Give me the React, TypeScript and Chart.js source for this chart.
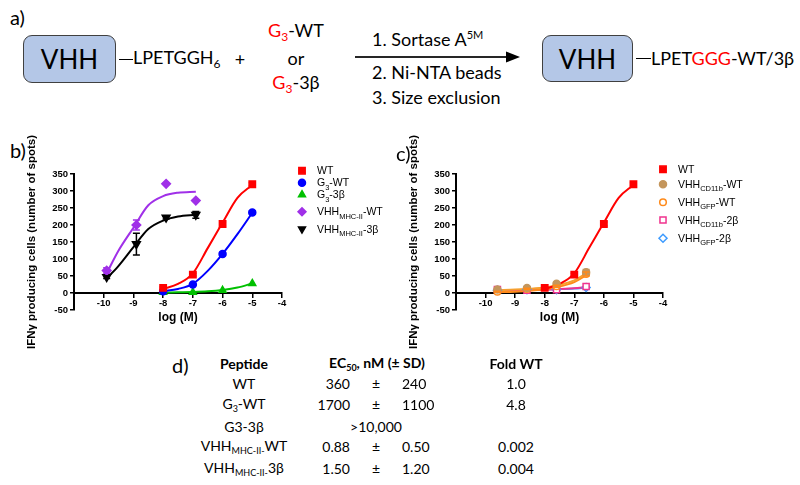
import React, { useEffect, useRef } from 'react';
import { Chart, registerables } from 'chart.js';
import { drawPoint } from 'chart.js/helpers';

Chart.register(...registerables);

const FONT = "'Liberation Sans', Arial, sans-serif";
const TEXT_FONT = "Lato, 'Liberation Sans', sans-serif";

// ---------- Panel b data ----------
const logDosePeptide = [-8, -7, -6, -5];
const logDoseVhhB = [-9.9, -8.9, -7.9, -6.9];
const wtValues = [15, 54, 203, 320];
const wtErr = [3, 4, 6, 4];
const g3wtValues = [5, 25, 115, 237];
const g3wtErr = [0, 2, 5, 4];
const g33bValues = [2, 2, 8, 28];
const vhhMhcWtValues = [66, 200, 321, 272];
const vhhMhcWtErr = [8, 15, 0, 0];
const vhhMhc3bValues = [47, 144, 222, 230];
const vhhMhc3bErr = [4, 32, 4, 10];

// fitted curves
const fitXPeptide = [-8, -7.5, -7, -6.5, -6, -5.5, -5];
const wtFit = [12, 27, 58, 132, 207, 280, 318];
const g3wtFit = [5, 12, 27, 65, 115, 173, 236];
const g33bFit = [1, 2, 3, 5, 9, 16, 28];
const fitXVhhB = [-9.9, -9.5, -9, -8.5, -8, -7.5, -6.9];
const vhhMhcWtFit = [58, 125, 192, 258, 285, 295, 298];
const vhhMhc3bFit = [43, 80, 135, 188, 213, 225, 230];

// ---------- Panel c data ----------
const logDoseVhhC = [-9.6, -8.6, -7.6, -6.6];
const cd11bWtValues = [10, 15, 27, 61];
const cd11bWtErr = [2, 3, 4, 8];
const gfpWtValues = [4, 12, 20, 56];
const gfpWtErr = [1, 2, 3, 6];
const cd11b2bValues = [10, 8, 10, 19];
const gfp2bValues = [8, 10, 10, 16];
const fitXVhhC = [-9.6, -9, -8.6, -8, -7.6, -7, -6.6];
const cd11bWtFit = [8, 10, 12, 16, 22, 37, 58];
const gfpWtFit = [2, 4, 6, 11, 17, 32, 52];
const cd11b2bFit = [8, 8.5, 9, 10, 11, 14, 17];
const gfp2bFit = [8, 8.5, 9, 10, 11, 13, 16];

const xTickValues = [-10, -9, -8, -7, -6, -5, -4];
const xMin = -11;
const xMax = -4;
const yMin = -50;
const yMax = 350;
const yStep = 50;

// ---------- Table data ----------
const tablePeptides = ['WT', 'G3-WT', 'G3-3β', 'VHH-MHC-WT', 'VHH-MHC-3β'];
const tableEc50 = ['360', '1700', '', '0.88', '1.50'];
const tableSd = ['240', '1100', '', '0.50', '1.20'];
const tableFold = ['1.0', '4.8', '', '0.002', '0.004'];

const pts = (xs: number[], ys: number[]) => xs.map((x, i) => ({ x, y: ys[i] }));

const RED = '#FF0000';
const BLUE = '#0000FF';
const GREEN = '#00C000';
const PURPLE = '#A030E8';
const BLACK = '#000000';
const TAN = '#C4965C';
const ORANGE = '#FF8A1A';
const ORANGE2 = '#F5A030';
const PINK = '#F0338F';
const LBLUE = '#3D9BFF';

const errorBarPlugin = {
  id: 'errorBars',
  afterDatasetsDraw(chart: any) {
    const ctx = chart.ctx;
    const xs = chart.scales.x;
    const ys = chart.scales.y;
    chart.data.datasets.forEach((ds: any) => {
      if (!ds.errorBars) return;
      ctx.save();
      ctx.strokeStyle = ds.errorColor || ds.pointBorderColor;
      ctx.lineWidth = 1.5;
      ds.data.forEach((p: any, j: number) => {
        const e = ds.errorBars[j];
        if (!e) return;
        const px = xs.getPixelForValue(p.x);
        const t = ys.getPixelForValue(p.y + e);
        const b = ys.getPixelForValue(p.y - e);
        ctx.beginPath();
        ctx.moveTo(px, t);
        ctx.lineTo(px, b);
        ctx.moveTo(px - 3.5, t);
        ctx.lineTo(px + 3.5, t);
        ctx.moveTo(px - 3.5, b);
        ctx.lineTo(px + 3.5, b);
        ctx.stroke();
      });
      ctx.restore();
    });
  },
};

const legendPlugin = {
  id: 'customLegend',
  afterDraw(chart: any, _args: any, opts: any) {
    if (!opts || !opts.rows) return;
    const ctx = chart.ctx;
    ctx.save();
    const rows = opts.rows as any[];
    for (let i = 0; i < rows.length; i++) {
      const r = rows[i];
      ctx.fillStyle = r.fill;
      ctx.strokeStyle = r.stroke;
      ctx.lineWidth = 1.5;
      drawPoint(ctx, { pointStyle: r.style, rotation: r.rotation || 0, radius: r.radius, borderWidth: 1.5 } as any, opts.markerX, r.y);
      let x = opts.textX;
      const segs = r.segs as any[];
      for (let k = 0; k < segs.length; k++) {
        const s = segs[k];
        ctx.font = `${s.sub ? opts.subSize : opts.size}px ${FONT}`;
        ctx.fillStyle = '#000';
        ctx.textAlign = 'left';
        ctx.textBaseline = 'alphabetic';
        const base = r.y + opts.size * 0.36 + (s.sub ? opts.size * 0.3 : 0);
        ctx.fillText(s.t, x, base);
        x += ctx.measureText(s.t).width;
      }
    }
    ctx.restore();
  },
};

function pointSet(label: string, xs: number[], ys: number[], style: string, radius: number, fill: string, stroke: string, err?: number[], rotation = 0) {
  return {
    label,
    data: pts(xs, ys),
    showLine: false,
    pointStyle: style,
    pointRadius: radius,
    pointRotation: rotation,
    pointBackgroundColor: fill,
    pointBorderColor: stroke,
    pointBorderWidth: 1.5,
    errorBars: err,
    errorColor: stroke,
    order: 0,
  };
}

function curveSet(label: string, xs: number[], ys: number[], color: string, order = 1) {
  return {
    label,
    data: pts(xs, ys),
    showLine: true,
    pointRadius: 0,
    borderColor: color,
    borderWidth: 2,
    cubicInterpolationMode: 'monotone',
    fill: false,
    order,
  };
}

function DoseChart(props: { left: number; top: number; width: number; height: number; datasets: any[]; padding: any; yWidth: number; legend: any }) {
  const ref = useRef<HTMLCanvasElement>(null);
  useEffect(() => {
    const tickFont = { family: FONT, size: 9.5, weight: 'bold' as const };
    const chart = new Chart(ref.current as HTMLCanvasElement, {
      type: 'scatter',
      data: { datasets: props.datasets },
      options: {
        animation: false,
        responsive: false,
        devicePixelRatio: 1,
        layout: { padding: props.padding },
        plugins: {
          legend: { display: false },
          tooltip: { enabled: false },
          customLegend: props.legend,
        } as any,
        scales: {
          x: {
            type: 'linear',
            min: xMin,
            max: xMax,
            position: { y: 0 } as any,
            afterBuildTicks: (s: any) => {
              s.ticks = xTickValues.map((v) => ({ value: v }));
            },
            ticks: { font: tickFont, color: '#000', padding: 1, maxRotation: 0 },
            grid: { display: true, drawOnChartArea: false, drawTicks: true, tickLength: 4, color: '#000', lineWidth: 1.5 },
            border: { display: true, color: '#000', width: 2 },
            title: { display: true, text: 'log (M)', font: { family: FONT, size: 12, weight: 'bold' }, color: '#000', padding: 0 },
          },
          y: {
            type: 'linear',
            min: yMin,
            max: yMax,
            afterFit: (s: any) => {
              s.width = props.yWidth;
            },
            ticks: { stepSize: yStep, font: tickFont, color: '#000', padding: 2 },
            grid: { display: true, drawOnChartArea: false, drawTicks: true, tickLength: 4, color: '#000', lineWidth: 1.5 },
            border: { display: true, color: '#000', width: 2 },
            title: { display: true, text: 'IFNγ producing cells (number of spots)', font: { family: FONT, size: 11.5, weight: 'bold' }, color: '#000', padding: 0 },
          },
        },
      } as any,
      plugins: [errorBarPlugin, legendPlugin],
    });
    return () => chart.destroy();
  }, []);
  return (
    <canvas
      ref={ref}
      width={props.width}
      height={props.height}
      style={{ position: 'absolute', left: props.left, top: props.top, width: props.width, height: props.height }}
    />
  );
}

const abs = (left: number, top: number, extra: React.CSSProperties = {}): React.CSSProperties => ({
  position: 'absolute',
  left,
  top,
  whiteSpace: 'nowrap',
  ...extra,
});

function Cell({ x, y, align, children, bold }: { x: number; y: number; align: 'l' | 'c' | 'r'; children: React.ReactNode; bold?: boolean }) {
  const tx = align === 'l' ? '0' : align === 'c' ? '-50%' : '-100%';
  return (
    <div style={abs(x, y, { transform: `translate(${tx}, -50%)`, fontFamily: TEXT_FONT, fontSize: 14, fontWeight: bold ? 700 : 400, color: '#000', lineHeight: 1 })}>
      {children}
    </div>
  );
}

function peptideLabel(p: string) {
  if (p === 'G3-WT') return (<span>G<sub style={{ fontSize: 9 }}>3</sub>-WT</span>);
  if (p === 'VHH-MHC-WT') return (<span>VHH<sub style={{ fontSize: 9 }}>MHC-II-</sub>WT</span>);
  if (p === 'VHH-MHC-3β') return (<span>VHH<sub style={{ fontSize: 9 }}>MHC-II-</sub>3β</span>);
  return <span>{p}</span>;
}

export default function App() {
  const datasetsB = [
    pointSet('WT', logDosePeptide, wtValues, 'rect', 4.5, RED, RED, wtErr),
    pointSet('G3-WT', logDosePeptide, g3wtValues, 'circle', 3.5, BLUE, BLUE, g3wtErr),
    pointSet('G3-3β', logDosePeptide, g33bValues, 'triangle', 4, GREEN, GREEN),
    pointSet('VHH MHC-II-WT', logDoseVhhB, vhhMhcWtValues, 'rectRot', 4.3, PURPLE, PURPLE, vhhMhcWtErr),
    pointSet('VHH MHC-II-3β', logDoseVhhB, vhhMhc3bValues, 'triangle', 4.5, BLACK, BLACK, vhhMhc3bErr, 180),
    curveSet('WT fit', fitXPeptide, wtFit, RED),
    curveSet('G3-WT fit', fitXPeptide, g3wtFit, BLUE),
    curveSet('G3-3β fit', fitXPeptide, g33bFit, GREEN),
    curveSet('VHH MHC-II-WT fit', fitXVhhB, vhhMhcWtFit, PURPLE),
    curveSet('VHH MHC-II-3β fit', fitXVhhB, vhhMhc3bFit, BLACK),
  ];
  const datasetsC = [
    pointSet('WT', logDosePeptide, wtValues, 'rect', 4.5, RED, RED, wtErr),
    pointSet('VHH CD11b-WT', logDoseVhhC, cd11bWtValues, 'circle', 3.5, TAN, TAN, cd11bWtErr),
    pointSet('VHH GFP-WT', logDoseVhhC, gfpWtValues, 'circle', 3.3, '#FFFFFF', ORANGE, gfpWtErr),
    pointSet('VHH CD11b-2β', logDoseVhhC, cd11b2bValues, 'rect', 4.3, '#FFFFFF', PINK),
    pointSet('VHH GFP-2β', logDoseVhhC, gfp2bValues, 'rectRot', 4, '#FFFFFF', LBLUE),
    curveSet('WT fit', fitXPeptide, wtFit, RED, 1),
    curveSet('VHH CD11b-WT fit', fitXVhhC, cd11bWtFit, ORANGE2, 2),
    curveSet('VHH GFP-WT fit', fitXVhhC, gfpWtFit, ORANGE, 2),
    curveSet('VHH CD11b-2β fit', fitXVhhC, cd11b2bFit, PINK, 2),
    curveSet('VHH GFP-2β fit', fitXVhhC, gfp2bFit, LBLUE, 3),
  ];

  const legendB = {
    markerX: 302,
    textX: 317,
    size: 10.5,
    subSize: 7.5,
    rows: [
      { y: 40.7, style: 'rect', radius: 4.5, fill: RED, stroke: RED, segs: [{ t: 'WT' }] },
      { y: 52.7, style: 'circle', radius: 3.5, fill: BLUE, stroke: BLUE, segs: [{ t: 'G' }, { t: '3', sub: true }, { t: '-WT' }] },
      { y: 64.7, style: 'triangle', radius: 4, fill: GREEN, stroke: GREEN, segs: [{ t: 'G' }, { t: '3', sub: true }, { t: '-3β' }] },
      { y: 81.7, style: 'rectRot', radius: 4, fill: PURPLE, stroke: PURPLE, segs: [{ t: 'VHH' }, { t: 'MHC-II', sub: true }, { t: '-WT' }] },
      { y: 99, style: 'triangle', radius: 4, rotation: 180, fill: BLACK, stroke: BLACK, segs: [{ t: 'VHH' }, { t: 'MHC-II', sub: true }, { t: '-3β' }] },
    ],
  };
  const legendC = {
    markerX: 263,
    textX: 278,
    size: 10.5,
    subSize: 7.5,
    rows: [
      { y: 39.3, style: 'rect', radius: 4.5, fill: RED, stroke: RED, segs: [{ t: 'WT' }] },
      { y: 54.3, style: 'circle', radius: 3.5, fill: TAN, stroke: TAN, segs: [{ t: 'VHH' }, { t: 'CD11b', sub: true }, { t: '-WT' }] },
      { y: 72.3, style: 'circle', radius: 3.3, fill: '#FFFFFF', stroke: ORANGE, segs: [{ t: 'VHH' }, { t: 'GFP', sub: true }, { t: '-WT' }] },
      { y: 90, style: 'rect', radius: 4.3, fill: '#FFFFFF', stroke: PINK, segs: [{ t: 'VHH' }, { t: 'CD11b', sub: true }, { t: '-2β' }] },
      { y: 108.3, style: 'rectRot', radius: 4, fill: '#FFFFFF', stroke: LBLUE, segs: [{ t: 'VHH' }, { t: 'GFP', sub: true }, { t: '-2β' }] },
    ],
  };

  const schemeText: React.CSSProperties = { fontFamily: TEXT_FONT, fontSize: 18, color: '#000', lineHeight: 1 };
  const red = { color: '#FF0000' };
  const vhhBox = (left: number, top: number, w: number, h: number) => (
    <div style={abs(left, top, { width: w, height: h, boxSizing: 'border-box', background: '#B4C7E7', border: '1.5px solid #404040', borderRadius: 9, display: 'flex', alignItems: 'center', justifyContent: 'center', fontFamily: TEXT_FONT, fontSize: 26, color: '#000' })}>
      VHH
    </div>
  );

  const rowY = [384, 405, 427, 447, 469];

  return (
    <div style={{ position: 'absolute', left: 0, top: 0, width: 800, height: 485, background: '#fff', overflow: 'hidden' }}>
      {/* Panel a */}
      <div style={abs(10, 7, { fontFamily: TEXT_FONT, fontSize: 20, lineHeight: 1 })}>a)</div>
      {vhhBox(23, 35, 93, 48)}
      <div style={abs(119, 58.5, { width: 14, height: 1.5, background: '#000' })} />
      <div style={abs(133, 59, { ...schemeText, transform: 'translateY(-50%)' })}>
        LPETGGH<sub style={{ fontSize: 12 }}>6</sub>
      </div>
      <div style={abs(240, 59, { ...schemeText, transform: 'translate(-50%,-50%)' })}>+</div>
      <div style={abs(296, 32, { ...schemeText, transform: 'translate(-50%,-50%)' })}>
        <span style={red}>G<sub style={{ fontSize: 12 }}>3</sub></span>-WT
      </div>
      <div style={abs(296, 58, { ...schemeText, transform: 'translate(-50%,-50%)' })}>or</div>
      <div style={abs(296, 84, { ...schemeText, transform: 'translate(-50%,-50%)' })}>
        <span style={red}>G<sub style={{ fontSize: 12 }}>3</sub></span>-3β
      </div>
      <svg style={{ position: 'absolute', left: 350, top: 47, overflow: 'visible' }} width={175} height={20}>
        <line x1={5} y1={10} x2={158} y2={10} stroke="#262626" strokeWidth={2} />
        <polygon points="170,10 156,4.5 156,15.5" fill="#000" />
      </svg>
      <div style={abs(372, 38, { ...schemeText, transform: 'translateY(-50%)' })}>
        1. Sortase A<sup style={{ fontSize: 11 }}>5M</sup>
      </div>
      <div style={abs(372, 72, { ...schemeText, transform: 'translateY(-50%)' })}>2. Ni-NTA beads</div>
      <div style={abs(372, 97, { ...schemeText, transform: 'translateY(-50%)' })}>3. Size exclusion</div>
      {vhhBox(542, 35, 91, 47)}
      <div style={abs(636, 57.5, { width: 15, height: 1.5, background: '#000' })} />
      <div style={abs(651, 58, { ...schemeText, transform: 'translateY(-50%)' })}>
        LPET<span style={red}>GGG</span>-WT/3β
      </div>

      {/* Panels b and c */}
      <div style={abs(10, 140, { fontFamily: TEXT_FONT, fontSize: 20, lineHeight: 1 })}>b)</div>
      <DoseChart left={0} top={130} width={400} height={220} datasets={datasetsB} padding={{ left: 25, right: 118, top: 44, bottom: 40 }} yWidth={49} legend={legendB} />
      <div style={abs(396, 143, { fontFamily: TEXT_FONT, fontSize: 20, lineHeight: 1 })}>c)</div>
      <DoseChart left={400} top={130} width={400} height={220} datasets={datasetsC} padding={{ left: 7, right: 137, top: 44, bottom: 40 }} yWidth={49} legend={legendC} />

      {/* Panel d */}
      <div style={abs(172, 355, { fontFamily: TEXT_FONT, fontSize: 20, lineHeight: 1 })}>d)</div>
      <Cell x={244} y={364} align="c" bold>Peptide</Cell>
      <Cell x={377} y={364} align="c" bold>
        EC<sub style={{ fontSize: 9 }}>50</sub>, nM (± SD)
      </Cell>
      <Cell x={516} y={364} align="c" bold>Fold WT</Cell>
      {tablePeptides.map((p, i) => (
        <React.Fragment key={p}>
          <Cell x={244} y={rowY[i]} align="c">{peptideLabel(p)}</Cell>
          {tableEc50[i] ? (
            <>
              <Cell x={350} y={rowY[i]} align="r">{tableEc50[i]}</Cell>
              <Cell x={376} y={rowY[i]} align="c">±</Cell>
              <Cell x={402} y={rowY[i]} align="l">{tableSd[i]}</Cell>
            </>
          ) : (
            <Cell x={376} y={rowY[i]} align="c">&gt;10,000</Cell>
          )}
          <Cell x={516} y={rowY[i]} align="c">{tableFold[i]}</Cell>
        </React.Fragment>
      ))}
    </div>
  );
}
